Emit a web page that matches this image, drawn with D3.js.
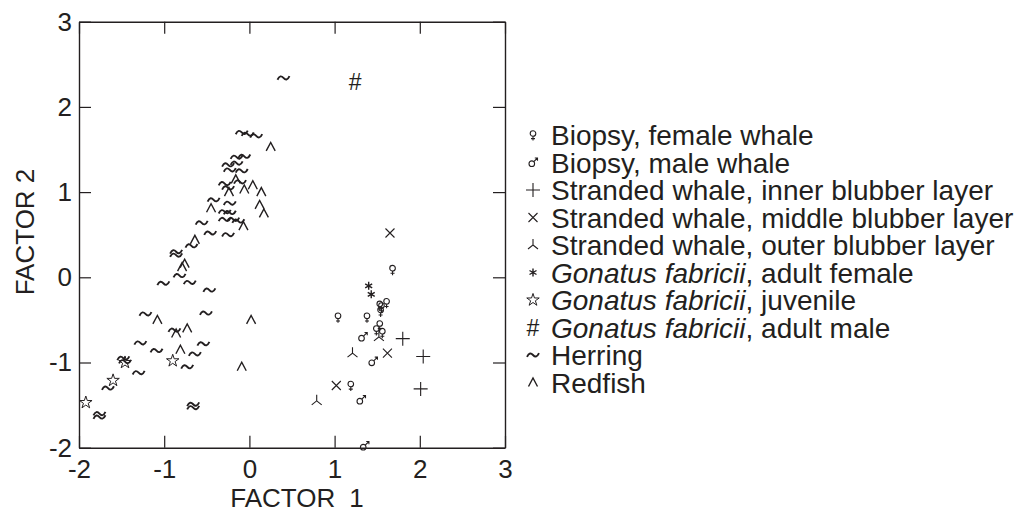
<!DOCTYPE html>
<html>
<head>
<meta charset="utf-8">
<script src="https://cdn.jsdelivr.net/npm/d3@7"></script>
<style>
  body { margin: 0; background: #fff; }
  text { font-family: "Liberation Sans", Arial, sans-serif; fill: #231f20; }
</style>
</head>
<body>
<div id="chart"></div>
<script>
const WIDTH = 1019;
const HEIGHT = 513;
const INK = "#231f20";

// data, [factor1, factor2]
const femaleWhale = [[1.68,0.09],[1.53,-0.33],[1.55,-0.35],[1.61,-0.30],[1.54,-0.40],[1.04,-0.47],
    [1.38,-0.47],[1.53,-0.56],[1.49,-0.62],[1.56,-0.65],[1.19,-1.27]];
const maleWhale = [[1.33,-0.70],[1.45,-0.99],[1.31,-1.44],[1.35,-1.98]];
const innerLayer = [[1.80,-0.72],[2.04,-0.93],[2.01,-1.31]];
const middleLayer = [[1.65,0.52],[1.62,-0.89],[1.02,-1.27]];
const outerLayer = [[1.52,-0.70],[1.21,-0.89],[0.79,-1.45]];
const gonatusFemale = [[1.40,-0.10],[1.43,-0.20]];
const gonatusJuvenile = [[-1.46,-1.00],[-0.90,-0.98],[-1.60,-1.21],[-1.92,-1.47]];
const gonatusMale = [[1.24,2.30]];
const herring = [[0.40,2.34],[-0.09,1.70],[-0.02,1.68],[0.08,1.66],[-0.15,1.41],[-0.06,1.42],
    [-0.25,1.32],[-0.15,1.34],[-0.23,1.26],[-0.09,1.25],[-0.29,1.10],[-0.11,1.12],[-0.25,1.05],
    [-0.42,0.91],[-0.23,0.87],[-0.29,0.77],[-0.23,0.76],[-0.29,0.68],[-0.19,0.68],[-0.13,0.66],
    [-0.56,0.64],[-0.46,0.52],[-0.25,0.50],[-0.68,0.37],[-0.86,0.30],[-0.86,0.26],[-0.82,0.02],
    [-1.01,-0.07],[-0.70,-0.06],[-0.47,-0.15],[-1.22,-0.43],[-0.51,-0.42],[-0.88,-0.62],
    [-1.28,-0.77],[-1.09,-0.86],[-0.64,-0.90],[-0.54,-0.78],[-1.48,-0.95],[-1.46,-0.99],
    [-0.73,-1.05],[-1.30,-1.12],[-1.66,-1.30],[-1.76,-1.60],[-1.76,-1.64],[-0.66,-1.49],[-0.66,-1.53]];
const redfish = [[0.25,1.53],[-0.16,1.15],[-0.24,1.00],[-0.06,1.03],[0.04,1.08],[0.14,1.00],
    [-0.45,0.81],[0.12,0.85],[0.17,0.75],[-0.07,0.60],[-0.64,0.44],[-0.76,0.16],[-0.79,0.12],
    [-1.08,-0.50],[-0.86,-0.66],[-0.73,-0.60],[0.02,-0.50],[-0.81,-0.85],[-0.09,-1.05]];

const ticks = [-2,-1,0,1,2,3];

const series = [
    {key:"female", data:femaleWhale, label:["Biopsy, female whale"]},
    {key:"male", data:maleWhale, label:["Biopsy, male whale"]},
    {key:"plus", data:innerLayer, label:["Stranded whale, inner blubber layer"]},
    {key:"cross", data:middleLayer, label:["Stranded whale, middle blubber layer"]},
    {key:"tri", data:outerLayer, label:["Stranded whale, outer blubber layer"]},
    {key:"aster", data:gonatusFemale, label:["Gonatus fabricii", ", adult female"]},
    {key:"star", data:gonatusJuvenile, label:["Gonatus fabricii", ", juvenile"]},
    {key:"hash", data:gonatusMale, label:["Gonatus fabricii", ", adult male"]},
    {key:"tilde", data:herring, label:["Herring"]},
    {key:"caret", data:redfish, label:["Redfish"]}
];

const x = d3.scaleLinear().domain([-2,3]).range([79,505]);
const y = d3.scaleLinear().domain([-2,3]).range([447.7,21.7]);

const svg = d3
    .select("#chart")
    .append("svg")
    .attr("width", WIDTH)
    .attr("height", HEIGHT);

// glyphs drawn as small paths, centred on 0,0
const PATHS = {
    plus: "M-7,0H7M0,-7V7",
    cross: "M-4.5,-4.5L4.5,4.5M-4.5,4.5L4.5,-4.5",
    tri: "M0,-6V0L-5,4M0,0L5,4",
    aster: "M0,-4V4M-3.5,-2L3.5,2M-3.5,2L3.5,-2",
    caret: "M-4.5,4L0,-4.5L4.5,4",
    tilde: "M-6,1.8C-4,-2.5 -2,-2.2 0,0S4,2.5 6,-1.8"
};

function drawGlyph(g, key){
    if (PATHS[key]) {
        g.append("path")
            .attr("d", PATHS[key])
            .attr("fill", "none")
            .attr("stroke", INK)
            .attr("stroke-width", key==="tilde" ? 1.9 : (key==="caret" || key==="aster" ? 1.4 : 1.1));
    } else if (key==="female") {
        g.append("circle").attr("cx",0).attr("cy",-1.5).attr("r",2.8)
            .attr("fill","none").attr("stroke",INK).attr("stroke-width",1.1);
        g.append("path").attr("d","M0,1.3V5.5M-2,3.6H2")
            .attr("fill","none").attr("stroke",INK).attr("stroke-width",1.1);
    } else if (key==="male") {
        g.append("circle").attr("cx",-1.2).attr("cy",1.2).attr("r",2.8)
            .attr("fill","none").attr("stroke",INK).attr("stroke-width",1.1);
        g.append("path").attr("d","M0.8,-0.8L4.5,-4.5M1.8,-4.5H4.5V-1.8")
            .attr("fill","none").attr("stroke",INK).attr("stroke-width",1.1);
    } else if (key==="star") {
        g.append("path")
            .attr("d", d3.symbol(d3.symbolStar).size(48)())
            .attr("fill","#fff").attr("stroke",INK).attr("stroke-width",1);
    } else if (key==="hash") {
        g.append("text")
            .attr("text-anchor","middle")
            .attr("dy","0.36em")
            .style("font-size","23px")
            .text("#");
    }
}

//marcas
series.forEach(s=>{
    svg
        .append("g")
        .selectAll("g")
        .data(s.data)
        .enter()
        .append("g")
        .attr("transform", d=>`translate(${x(d[0])},${y(d[1])})`)
        .each(function(){ drawGlyph(d3.select(this), s.key); });
});

//ejes
function styleAxis(g){
    g.selectAll(".domain").attr("stroke", INK).attr("stroke-width", 1.4);
    g.selectAll(".tick line").attr("stroke", INK).attr("stroke-width", 1.2);
    g.selectAll("text")
        .style("font-family", '"Liberation Sans", Arial, sans-serif')
        .style("font-size", "26px")
        .attr("fill", INK);
}

const fmt = d=>String(d);

svg.append("g")
    .attr("transform", `translate(0,${y(-2)})`)
    .call(d3.axisBottom(x).tickValues(ticks).tickFormat(fmt).tickSizeInner(-12).tickSizeOuter(0).tickPadding(12))
    .call(styleAxis);
svg.append("g")
    .attr("transform", `translate(${x(-2)},0)`)
    .call(d3.axisLeft(y).tickValues(ticks).tickFormat(fmt).tickSizeInner(-12).tickSizeOuter(0).tickPadding(7))
    .call(styleAxis);
svg.append("g")
    .attr("transform", `translate(0,${y(3)})`)
    .call(d3.axisTop(x).tickValues(ticks).tickFormat("").tickSizeInner(-12).tickSizeOuter(0))
    .call(styleAxis);
svg.append("g")
    .attr("transform", `translate(${x(3)},0)`)
    .call(d3.axisRight(y).tickValues(ticks).tickFormat("").tickSizeInner(-12).tickSizeOuter(0))
    .call(styleAxis);

//titulos
const xTitle = svg.append("text")
    .attr("x", 297)
    .attr("y", 507)
    .attr("text-anchor", "middle")
    .style("font-size", "26px");
xTitle.append("tspan").text("FACTOR");
xTitle.append("tspan").attr("dx", 14).text("1");

svg.append("text")
    .attr("transform", "translate(34,232) rotate(-90)")
    .attr("text-anchor", "middle")
    .style("font-size", "26px")
    .text("FACTOR 2");

//leyenda
const legend = svg.append("g")
    .selectAll("g")
    .data(series)
    .enter()
    .append("g")
    .attr("transform", (d,i)=>`translate(533,${135 + i*27.5})`);

legend.each(function(d){ drawGlyph(d3.select(this), d.key); });

legend.append("text")
    .attr("x", 18)
    .attr("dy", "0.36em")
    .style("font-size", "28px")
    .each(function(d){
        const t = d3.select(this);
        if (d.label.length > 1) {
            t.append("tspan").style("font-style","italic").text(d.label[0]);
            t.append("tspan").text(d.label[1]);
        } else {
            t.text(d.label[0]);
        }
    });
</script>
</body>
</html>
